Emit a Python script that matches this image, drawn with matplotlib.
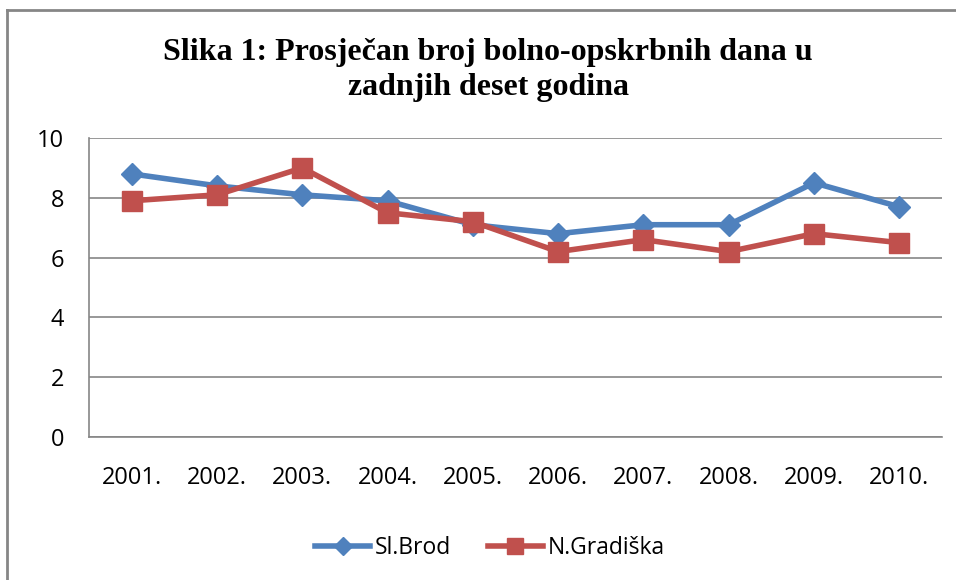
import matplotlib
matplotlib.use("Agg")
import matplotlib.pyplot as plt
from matplotlib.lines import Line2D

years = ["2001.", "2002.", "2003.", "2004.", "2005.", "2006.", "2007.", "2008.", "2009.", "2010."]
sl_brod = [8.8, 8.4, 8.1, 7.9, 7.1, 6.8, 7.1, 7.1, 8.5, 7.7]
n_gradiska = [7.9, 8.1, 9.0, 7.5, 7.2, 6.2, 6.6, 6.2, 6.8, 6.5]
yticks = [0, 2, 4, 6, 8, 10]

W, H = 956, 580
fig = plt.figure(figsize=(W/100, H/100), dpi=100)
fig.patch.set_facecolor("white")
ax = fig.add_axes([89/W, 1-437/H, (942-89)/W, (437-138)/H])

x = list(range(len(years)))
ax.plot(x, sl_brod, color="#4F81BD", lw=4, marker="D", ms=11, label="Sl.Brod", zorder=3)
ax.plot(x, n_gradiska, color="#C0504D", lw=4, marker="s", ms=15, label="N.Gradiška", zorder=4)

ax.set_xlim(-0.5, len(years)-0.5)
ax.set_ylim(0, 10)
ax.set_yticks(yticks)
ax.set_xticks(x)
ax.set_xticklabels(years)
for s in ["top", "right"]:
    ax.spines[s].set_visible(False)
for s in ["left", "bottom"]:
    ax.spines[s].set_color("#868686")
    ax.spines[s].set_linewidth(1.2)
ax.yaxis.grid(True, color="#868686", lw=1.2)
ax.set_axisbelow(True)
ax.tick_params(axis="both", length=0, labelsize=17, colors="black")
ax.tick_params(axis="x", pad=21)
ax.tick_params(axis="y", pad=18)
for lab in ax.get_xticklabels() + ax.get_yticklabels():
    lab.set_fontfamily("Open Sans")

fig.text(488/W, 1-70/H, "Slika 1: Prosječan broj bolno-opskrbnih dana u\nzadnjih deset godina",
         ha="center", va="center", fontsize=23, fontweight="bold",
         family="Liberation Serif", linespacing=1.3)

leg = fig.legend(loc="center", bbox_to_anchor=(490/W, 1-548/H), ncol=2, frameon=False,
                 prop={"family": "Open Sans", "size": 16.5}, handlelength=2.4,
                 columnspacing=1.6, handletextpad=0.2, markerscale=0.8)

# figure border (only top and left visible in the reference)
fig.add_artist(Line2D([7/W, 7/W], [0, 1-10/H], transform=fig.transFigure, color="#868686", lw=2))
fig.add_artist(Line2D([7/W, 1], [1-10/H, 1-10/H], transform=fig.transFigure, color="#868686", lw=2))

fig.savefig("out.png", dpi=100)
